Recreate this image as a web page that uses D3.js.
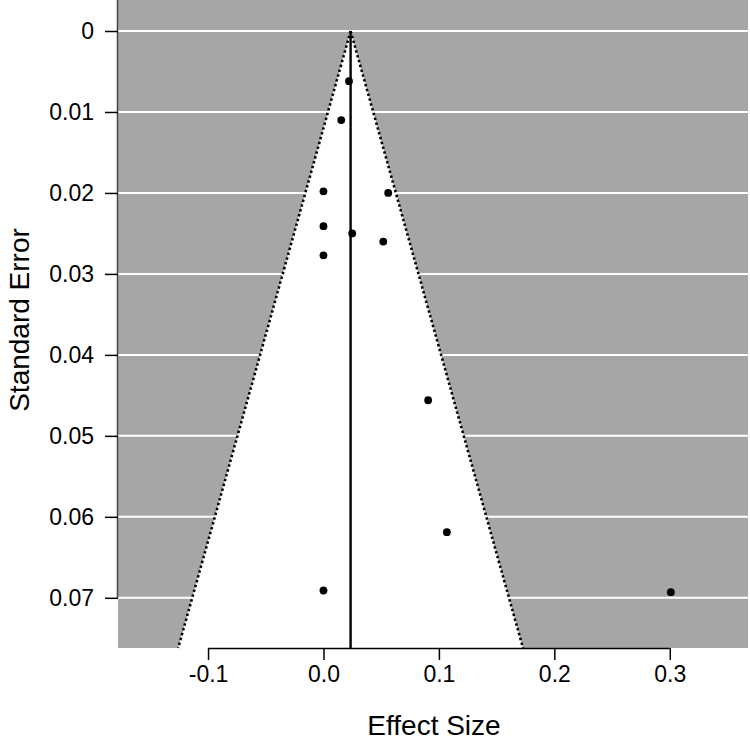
<!DOCTYPE html>
<html>
<head>
<meta charset="utf-8">
<script src="https://cdn.jsdelivr.net/npm/d3@7"></script>
<style>
  body { margin: 0; background: #fff; }
  text { font-family: "Liberation Sans", Arial, sans-serif; fill: #000; }
</style>
</head>
<body>
<div id="chart"></div>
<script>
// effect sizes and standard errors
var effects = [0.0221, 0.0154, 0.0, 0.0561, 0.0, 0.0249, 0.0518, 0.0, 0.0907, 0.1069, 0.0, 0.3009];
var stdErrs = [0.0062, 0.0110, 0.0198, 0.0200, 0.0241, 0.0250, 0.0260, 0.0277, 0.0456, 0.0619, 0.0691, 0.0693];
var pooled = 0.0235;
var xTicks = [-0.1, 0.0, 0.1, 0.2, 0.3];
var yTicks = [0, 0.01, 0.02, 0.03, 0.04, 0.05, 0.06, 0.07];

var svgWidth = 750, svgHeight = 750;
var margin = {top: 0, right: 0, bottom: 102, left: 118};
var chartWidth = svgWidth - margin.left - margin.right;
var chartHeight = svgHeight - margin.top - margin.bottom;

var svg = d3.select("#chart").append("svg")
    .attr("width", svgWidth)
    .attr("height", svgHeight);

var g = svg.append("g")
    .attr("transform", `translate(${margin.left}, ${margin.top})`);

// scales
var xScale = d3.scaleLinear().domain([-0.178, 0.3695]).range([0, chartWidth]);
var yScale = d3.scaleLinear().domain([-0.00383, 0.0762]).range([0, chartHeight]);
var seMax = yScale.domain()[1];

// gray background
g.append("rect")
    .attr("x", 0).attr("y", 0)
    .attr("width", chartWidth - 2).attr("height", chartHeight)
    .attr("fill", "#a6a6a6");

// white grid lines
g.selectAll(".grid").data(yTicks).enter().append("line")
    .attr("x1", 0).attr("x2", chartWidth - 2)
    .attr("y1", d => yScale(d)).attr("y2", d => yScale(d))
    .attr("stroke", "#fff").attr("stroke-width", 2);

// white funnel
var funnel = [[pooled, 0], [pooled - 1.96 * seMax, seMax], [pooled + 1.96 * seMax, seMax]];
g.append("path")
    .attr("d", d3.line().x(d => xScale(d[0])).y(d => yScale(d[1]))(funnel) + "Z")
    .attr("fill", "#fff");

// dotted funnel edges
[-1, 1].forEach(function(s) {
    g.append("line")
        .attr("x1", xScale(pooled)).attr("y1", yScale(0))
        .attr("x2", xScale(pooled + s * 1.96 * seMax)).attr("y2", yScale(seMax))
        .attr("stroke", "#000").attr("stroke-width", 2.6)
        .attr("stroke-dasharray", "2.4,2.6");
});

// pooled estimate line
g.append("line")
    .attr("x1", xScale(pooled)).attr("x2", xScale(pooled))
    .attr("y1", yScale(0)).attr("y2", chartHeight)
    .attr("stroke", "#000").attr("stroke-width", 2.4);

// points
g.selectAll("circle").data(effects).enter().append("circle")
    .attr("cx", d => xScale(d))
    .attr("cy", (d, i) => yScale(stdErrs[i]))
    .attr("r", 3.9)
    .attr("fill", "#000");

// x axis
var xAxis = d3.axisBottom(xScale).tickValues(xTicks)
    .tickFormat(d => d3.format(".1f")(d).replace("\u2212", "-"))
    .tickSize(12).tickPadding(6);
var xAxisG = g.append("g")
    .attr("transform", `translate(0, ${chartHeight})`)
    .call(xAxis);
xAxisG.select(".domain").attr("d", `M${xScale(-0.1)},0.5H${xScale(0.3)}`).attr("stroke-width", 1.5);
xAxisG.selectAll(".tick line").attr("stroke-width", 1.5);
xAxisG.selectAll("text").style("font-size", "23px").attr("fill", "#000");

// y axis
var yAxis = d3.axisLeft(yScale).tickValues(yTicks).tickFormat(d => d === 0 ? "0" : d3.format(".2f")(d)).tickSize(13).tickPadding(11);
var yAxisG = g.append("g").call(yAxis);
yAxisG.select(".domain").attr("d", `M-0.5,0V${yScale(0.07)}`).attr("stroke-width", 1.5).attr("stroke", "#444");
yAxisG.selectAll(".tick line").attr("stroke-width", 1.5);
yAxisG.selectAll("text").style("font-size", "23px").attr("fill", "#000");

// axis titles
svg.append("text")
    .attr("x", margin.left + chartWidth / 2)
    .attr("y", 735)
    .attr("text-anchor", "middle")
    .style("font-size", "28px")
    .text("Effect Size");

svg.append("text")
    .attr("transform", "translate(29, 320) rotate(-90)")
    .attr("text-anchor", "middle")
    .style("font-size", "28px")
    .text("Standard Error");
</script>
</body>
</html>
